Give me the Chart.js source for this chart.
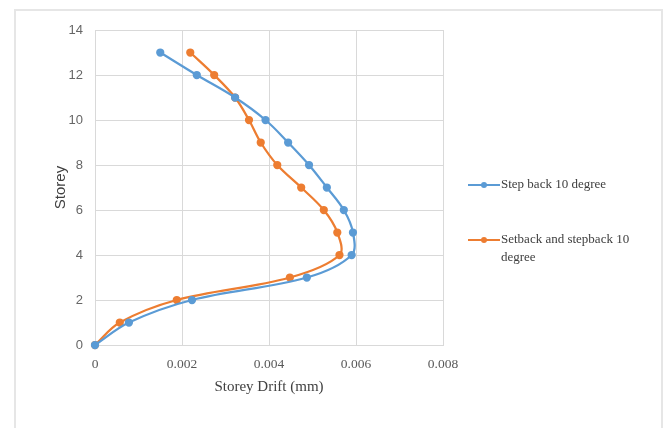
<!DOCTYPE html>
<html>
<head>
<meta charset="utf-8">
<script src="https://cdn.jsdelivr.net/npm/chart.js@4"></script>
<style>
body { margin: 0; background: #fff; }
#wrap { position: relative; width: 665px; height: 428px; }
#frame { position: absolute; left: 14px; top: 9px; width: 645px; height: 430px; border: 2px solid #e6e6e6; }
#c { position: absolute; left: 0; top: 0; }
#legend { position: absolute; left: 468px; top: 175px; width: 180px; font-family: "Liberation Serif", serif; font-size: 13px; color: #404040; }
.item { position: relative; padding-left: 33px; line-height: 18px; }
.swatch { position: absolute; left: 0; top: 9px; width: 32px; height: 2px; }
.dot { position: absolute; left: 13px; top: -2px; width: 6px; height: 6px; border-radius: 50%; }
</style>
</head>
<body>
<div id="wrap">
<div id="frame"></div>
<canvas id="c" width="665" height="428"></canvas>
<div id="legend"></div>
</div>
<script>
//Storey numbers (y axis).
const storeys = [0, 1, 2, 3, 4, 5, 6, 7, 8, 9, 10, 11, 12, 13];

//Storey drift.
const stepBack = [0, 0.00078, 0.00223, 0.00487, 0.0059, 0.00593, 0.00572, 0.00533, 0.00492, 0.00444, 0.00392, 0.00322, 0.00234, 0.0015];
const setbackStepback = [0, 0.00057, 0.00188, 0.00448, 0.00562, 0.00557, 0.00526, 0.00474, 0.00419, 0.00381, 0.00354, 0.00322, 0.00274, 0.00219];

const seriesNames = ['Step back 10 degree', 'Setback and stepback 10 degree'];
const seriesColors = ['#5b9bd5', '#ed7d31'];

const xTicks = [0, 0.002, 0.004, 0.006, 0.008];
const yTicks = [0, 2, 4, 6, 8, 10, 12, 14];


function toPoints(drifts) {
    return drifts.map((d, i) => ({ x: d, y: storeys[i] }));
}


function makeDataset(label, values, color) {
    return {
        label: label,
        data: toPoints(values),
        borderColor: color,
        backgroundColor: color,
        borderWidth: 2.25,
        pointRadius: 3,
        pointHoverRadius: 3,
        showLine: true,
        tension: 0.35,
        clip: false,
    };
}


const ctx = document.getElementById('c').getContext('2d');
const chart = new Chart(ctx, {
    type: 'scatter',
    data: {
        datasets: [
            makeDataset(seriesNames[0], stepBack, seriesColors[0]),
            makeDataset(seriesNames[1], setbackStepback, seriesColors[1]),
        ]
    },
    options: {
        responsive: false,
        animation: false,
        layout: { padding: { left: 48, top: 30, right: 222, bottom: 28 } },
        plugins: {
            legend: { display: false },
            tooltip: { enabled: false },
        },
        scales: {
            x: {
                type: 'linear',
                min: 0,
                max: 0.008,
                afterBuildTicks: axis => { axis.ticks = xTicks.map(v => ({ value: v })); },
                afterFit: axis => { axis.height = 55; },
                grid: { color: '#d9d9d9', lineWidth: 1, drawTicks: false },
                border: { color: '#d9d9d9' },
                ticks: {
                    padding: 11,
                    color: '#595959',
                    font: { family: 'Liberation Serif', size: 13.5 },
                    callback: v => String(v),
                },
                title: {
                    display: true,
                    text: 'Storey Drift (mm)',
                    color: '#404040',
                    font: { family: 'Liberation Serif', size: 15 },
                    padding: { top: 1 },
                },
            },
            y: {
                type: 'linear',
                min: 0,
                max: 14,
                afterBuildTicks: axis => { axis.ticks = yTicks.map(v => ({ value: v })); },
                afterFit: axis => { axis.width = 47; },
                grid: { color: '#d9d9d9', lineWidth: 1, drawTicks: false },
                border: { color: '#d9d9d9' },
                ticks: {
                    padding: 12,
                    color: '#666666',
                    font: { family: 'Liberation Sans', size: 13 },
                },
                title: {
                    display: true,
                    text: 'Storey',
                    color: '#404040',
                    font: { family: 'Liberation Sans', size: 15 },
                    padding: { bottom: 0 },
                },
            },
        },
    },
});


//HTML legend, built from the datasets.
const legend = document.getElementById('legend');
chart.data.datasets.forEach((ds, i) => {
    const item = document.createElement('div');
    item.className = 'item';
    item.style.marginBottom = i === 0 ? '37px' : '0';
    item.innerHTML = '<span class="swatch" style="background:' + ds.borderColor + '"><span class="dot" style="background:' + ds.borderColor + '"></span></span>' + ds.label;
    legend.appendChild(item);
});
</script>
</body>
</html>
